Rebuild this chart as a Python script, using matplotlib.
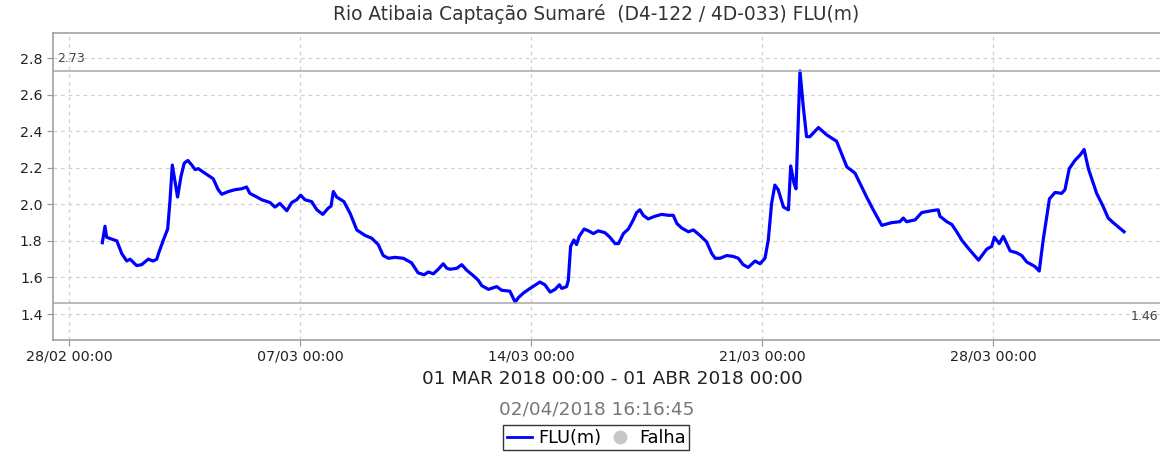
import matplotlib
matplotlib.use('Agg')
import matplotlib.pyplot as plt
import matplotlib.dates as mdates
from matplotlib.lines import Line2D
import pandas as pd

# Days since 01/03/2018 00:00 and river level FLU(m)
days = [0.01, 0.09, 0.14, 0.29, 0.45, 0.60, 0.75, 0.85, 1.05, 1.20, 1.40, 1.55, 1.66, 1.71,
        1.86, 1.99, 2.06, 2.13, 2.29, 2.39, 2.49, 2.60, 2.72, 2.82, 2.92, 3.12, 3.37, 3.52,
        3.63, 3.83, 4.03, 4.23, 4.38, 4.48, 4.69, 4.84, 5.09, 5.24, 5.39, 5.60, 5.75, 5.90,
        6.02, 6.15, 6.35, 6.51, 6.69, 6.86, 6.94, 7.01, 7.11, 7.33, 7.52, 7.72, 7.97, 8.17,
        8.37, 8.52, 8.68, 8.88, 9.13, 9.38, 9.58, 9.76, 9.89, 10.04, 10.19, 10.34, 10.45,
        10.55, 10.75, 10.90, 11.05, 11.25, 11.40, 11.51, 11.71, 11.96, 12.11, 12.36, 12.52,
        12.62, 12.77, 12.97, 13.27, 13.42, 13.58, 13.73, 13.86, 13.93, 14.08, 14.13, 14.20,
        14.30, 14.38, 14.46, 14.61, 14.74, 14.89, 15.04, 15.24, 15.39, 15.55, 15.65, 15.80,
        15.95, 16.10, 16.20, 16.30, 16.40, 16.55, 16.76, 16.96, 17.16, 17.31, 17.42, 17.57,
        17.77, 17.92, 18.12, 18.32, 18.48, 18.58, 18.73, 18.93, 19.13, 19.28, 19.43, 19.58,
        19.79, 19.94, 20.09, 20.19, 20.29, 20.39, 20.49, 20.65, 20.80, 20.87, 20.97, 21.03,
        21.15, 21.25, 21.35, 21.45, 21.71, 21.96, 22.26, 22.36, 22.57, 22.82, 23.17, 23.37,
        23.63, 23.93, 24.18, 24.28, 24.38, 24.64, 24.84, 25.14, 25.34, 25.39, 25.60, 25.75,
        25.90, 26.05, 26.25, 26.56, 26.81, 26.96, 27.04, 27.19, 27.31, 27.52, 27.72, 27.87,
        28.02, 28.27, 28.40, 28.52, 28.71, 28.88, 29.08, 29.18, 29.31, 29.48, 29.64, 29.76,
        29.89, 30.14, 30.32, 30.49, 30.64, 30.97]
flu = [1.79, 1.88, 1.82, 1.81, 1.80, 1.73, 1.69, 1.70, 1.665, 1.67, 1.70, 1.69, 1.70, 1.73,
       1.805, 1.865, 2.02, 2.215, 2.04, 2.15, 2.225, 2.24, 2.215, 2.19, 2.195, 2.17, 2.14, 2.08,
       2.055, 2.07, 2.08, 2.085, 2.095, 2.06, 2.04, 2.025, 2.01, 1.985, 2.005, 1.965, 2.01, 2.025,
       2.05, 2.025, 2.015, 1.97, 1.945, 1.98, 1.99, 2.07, 2.04, 2.015, 1.95, 1.86, 1.83, 1.815,
       1.78, 1.72, 1.705, 1.71, 1.705, 1.68, 1.625, 1.615, 1.63, 1.62, 1.645, 1.675, 1.65,
       1.645, 1.65, 1.67, 1.64, 1.61, 1.585, 1.555, 1.535, 1.55, 1.53, 1.525, 1.465,
       1.49, 1.515, 1.54, 1.575, 1.56, 1.52, 1.535, 1.56, 1.54, 1.55, 1.585, 1.77,
       1.805, 1.78, 1.825, 1.865, 1.855, 1.84, 1.855, 1.845, 1.82, 1.785, 1.785, 1.84,
       1.865, 1.915, 1.955, 1.97, 1.94, 1.92, 1.935, 1.945, 1.94, 1.94, 1.895, 1.87,
       1.85, 1.86, 1.83, 1.795, 1.73, 1.705, 1.705, 1.72, 1.715, 1.705, 1.67, 1.655,
       1.69, 1.675, 1.705, 1.805, 2.005, 2.105, 2.08, 1.985, 1.97, 2.21, 2.115, 2.085,
       2.73, 2.535, 2.37, 2.37, 2.42, 2.38, 2.345, 2.30, 2.205, 2.17, 2.04, 1.97,
       1.885, 1.90, 1.905, 1.925, 1.905, 1.915, 1.955, 1.965, 1.97, 1.935, 1.905, 1.89,
       1.85, 1.805, 1.76, 1.695, 1.755, 1.77, 1.82, 1.785, 1.825, 1.745, 1.735, 1.72,
       1.685, 1.66, 1.635, 1.805, 2.03, 2.065, 2.06, 2.08, 2.195, 2.24, 2.27, 2.30,
       2.195, 2.06, 1.995, 1.925, 1.90, 1.85]

max_level = 2.73
min_level = 1.46
tick_dates = ['2018-02-28', '2018-03-07', '2018-03-14', '2018-03-21', '2018-03-28']
y_ticks = [1.4, 1.6, 1.8, 2.0, 2.2, 2.4, 2.6, 2.8]

title = 'Rio Atibaia Captação Sumaré  (D4-122 / 4D-033) FLU(m)'
period = '01 MAR 2018 00:00 - 01 ABR 2018 00:00'
stamp = '02/04/2018 16:16:45'

plt.rcParams['font.family'] = ['DejaVu Sans']

start = pd.Timestamp('2018-03-01 00:00')
times = [start + pd.Timedelta(days=d) for d in days]

fig = plt.figure(figsize=(11.6, 4.57), dpi=100)
ax = fig.add_axes([53 / 1160, 117 / 457, 1107 / 1160, 307 / 457])

ax.plot(times, flu, color='#0000ff', linewidth=2.3, solid_joinstyle='round')

# max / min reference lines with their labels
ax.axhline(max_level, color='#a8a8a8', linewidth=1.1)
ax.axhline(min_level, color='#a8a8a8', linewidth=1.1)
ax.text(0.004, max_level + 0.03, f'{max_level:.2f}', transform=ax.get_yaxis_transform(),
        fontsize=9, color='#444444', va='bottom', ha='left')
ax.text(0.9985, min_level - 0.04, f'{min_level:.2f}', transform=ax.get_yaxis_transform(),
        fontsize=9, color='#444444', va='top', ha='right')

ax.set_xlim(start - pd.Timedelta(days=1.485), start + pd.Timedelta(days=32.06))
ax.set_ylim(1.258, 2.937)
ax.set_xticks([pd.Timestamp(t) for t in tick_dates])
ax.xaxis.set_major_formatter(mdates.DateFormatter('%d/%m %H:%M'))
ax.set_yticks(y_ticks)
ax.set_yticklabels([f'{v:.1f}' for v in y_ticks])

ax.grid(True, color='#d0d0d0', linestyle=(0, (3, 3)), linewidth=0.9)
ax.tick_params(axis='both', labelsize=10.3, colors='#999999', labelcolor='#222222',
               length=4, width=0.9)
ax.tick_params(axis='x', pad=3)
for side in ['left', 'bottom', 'top']:
    ax.spines[side].set_color('#999999')
    ax.spines[side].set_linewidth(1.1)
ax.spines['right'].set_visible(False)

fig.text(0.514, 0.969, title, ha='center', va='center', fontsize=13.4, color='#333333')
fig.text(0.528, 0.171, period, ha='center', va='center', fontsize=13.3, color='#222222')
fig.text(0.514, 0.103, stamp, ha='center', va='center', fontsize=13.3, color='#777777')

handles = [Line2D([], [], color='#0000ff', linewidth=2),
           Line2D([], [], color='#c8c8c8', marker='o', linestyle='none', markersize=9)]
leg = fig.legend(handles, ['FLU(m)', 'Falha'], loc='center', bbox_to_anchor=(0.514, 0.042),
                 ncol=2, fontsize=12.8, frameon=True, fancybox=False, handlelength=1.4,
                 handletextpad=0.4, columnspacing=0.3, borderpad=0.2, borderaxespad=0)
leg.get_frame().set_edgecolor('#000000')
leg.get_frame().set_linewidth(1.0)

fig.savefig('out.png', dpi=100)
